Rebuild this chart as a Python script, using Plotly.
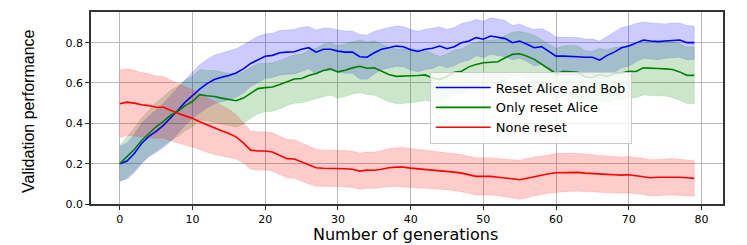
import plotly.graph_objects as go

generations = list(range(80))

reset_both = [0.200,0.213,0.250,0.300,0.335,0.360,0.390,0.425,0.465,0.505,
0.540,0.570,0.597,0.617,0.628,0.637,0.650,0.670,0.697,0.717,
0.733,0.737,0.750,0.753,0.755,0.767,0.775,0.753,0.767,0.767,
0.758,0.753,0.753,0.730,0.728,0.750,0.767,0.775,0.783,0.780,
0.765,0.756,0.767,0.772,0.783,0.770,0.780,0.800,0.808,0.825,
0.817,0.833,0.825,0.820,0.800,0.808,0.792,0.775,0.780,0.758,
0.733,0.733,0.733,0.730,0.728,0.728,0.713,0.737,0.753,0.775,
0.783,0.800,0.813,0.808,0.805,0.808,0.812,0.813,0.800,0.800]

reset_alice = [0.200,0.233,0.270,0.315,0.350,0.383,0.410,0.440,0.460,0.488,
0.508,0.542,0.537,0.533,0.525,0.520,0.512,0.525,0.550,0.572,
0.577,0.580,0.592,0.608,0.620,0.622,0.637,0.647,0.662,0.670,
0.655,0.663,0.675,0.683,0.673,0.675,0.658,0.642,0.633,0.633,
0.636,0.637,0.640,0.625,0.617,0.633,0.653,0.658,0.680,0.692,
0.700,0.703,0.705,0.725,0.742,0.745,0.733,0.717,0.695,0.670,
0.647,0.658,0.657,0.653,0.630,0.628,0.642,0.633,0.647,0.650,
0.658,0.657,0.675,0.675,0.672,0.670,0.667,0.655,0.638,0.638]

none_reset = [0.497,0.505,0.500,0.492,0.488,0.480,0.480,0.463,0.450,0.437,
0.425,0.408,0.392,0.375,0.363,0.350,0.333,0.303,0.267,0.263,
0.263,0.258,0.242,0.225,0.223,0.208,0.192,0.180,0.177,0.177,
0.177,0.175,0.172,0.163,0.168,0.167,0.172,0.180,0.183,0.183,
0.178,0.175,0.173,0.170,0.167,0.163,0.158,0.153,0.145,0.137,
0.137,0.137,0.133,0.130,0.125,0.120,0.128,0.137,0.142,0.150,
0.155,0.155,0.158,0.157,0.153,0.152,0.150,0.147,0.145,0.143,
0.145,0.140,0.137,0.130,0.133,0.133,0.135,0.133,0.130,0.127]

reset_both_std = [0.085,0.09,0.095,0.10,0.10,0.105,0.11,0.115,0.115,0.115,
0.115,0.12,0.12,0.12,0.12,0.12,0.12,0.12,0.115,0.115,
0.11,0.11,0.11,0.11,0.11,0.11,0.105,0.11,0.105,0.105,
0.105,0.105,0.105,0.11,0.11,0.105,0.10,0.10,0.10,0.10,
0.10,0.10,0.10,0.10,0.095,0.095,0.095,0.095,0.095,0.09,
0.09,0.09,0.09,0.09,0.085,0.085,0.085,0.09,0.09,0.095,
0.095,0.095,0.095,0.095,0.09,0.09,0.095,0.095,0.10,0.10,
0.10,0.095,0.09,0.09,0.09,0.085,0.085,0.085,0.085,0.083]

reset_alice_std = [0.09,0.10,0.105,0.11,0.115,0.12,0.12,0.125,0.125,0.125,
0.125,0.125,0.125,0.13,0.13,0.13,0.13,0.13,0.125,0.125,
0.12,0.12,0.12,0.12,0.12,0.12,0.125,0.125,0.13,0.13,
0.13,0.13,0.13,0.13,0.13,0.135,0.135,0.135,0.135,0.135,
0.135,0.13,0.125,0.12,0.115,0.11,0.11,0.11,0.11,0.11,
0.11,0.11,0.11,0.11,0.11,0.11,0.115,0.12,0.12,0.125,
0.125,0.125,0.13,0.13,0.13,0.13,0.13,0.13,0.13,0.13,
0.13,0.13,0.135,0.135,0.135,0.135,0.14,0.14,0.14,0.14]

none_reset_std = [0.167,0.165,0.163,0.16,0.158,0.155,0.152,0.15,0.147,0.145,
0.142,0.138,0.135,0.13,0.125,0.12,0.11,0.10,0.095,0.095,
0.095,0.095,0.095,0.095,0.095,0.095,0.093,0.092,0.09,0.09,
0.09,0.09,0.09,0.09,0.09,0.09,0.092,0.094,0.096,0.097,
0.097,0.096,0.095,0.094,0.093,0.092,0.092,0.092,0.092,0.092,
0.092,0.092,0.092,0.093,0.095,0.097,0.097,0.096,0.095,0.095,
0.095,0.095,0.095,0.094,0.093,0.092,0.091,0.09,0.09,0.09,
0.09,0.09,0.09,0.09,0.09,0.09,0.09,0.089,0.088,0.088]

series = [
    ("Reset Alice and Bob", reset_both, reset_both_std, "#0000ff", "rgba(0,0,255,0.2)"),
    ("Only reset Alice", reset_alice, reset_alice_std, "#008000", "rgba(0,128,0,0.2)"),
    ("None reset", none_reset, none_reset_std, "#ff0000", "rgba(255,0,0,0.2)"),
]

fig = go.Figure()
for name, mean, std, color, fill in series:
    upper = [m + s for m, s in zip(mean, std)]
    lower = [m - s for m, s in zip(mean, std)]
    fig.add_trace(go.Scatter(
        x=generations + generations[::-1], y=upper + lower[::-1],
        fill="toself", fillcolor=fill, line=dict(width=0.6, color=fill),
        hoverinfo="skip", showlegend=False))
for name, mean, std, color, fill in series:
    fig.add_trace(go.Scatter(x=generations, y=mean, mode="lines", name=name,
                             line=dict(color=color, width=1.6)))

axis_common = dict(showgrid=True, gridcolor="#b8b8b8", gridwidth=1,
                   showline=True, linecolor="#333333", linewidth=1.5, mirror=True,
                   ticks="outside", ticklen=4, tickcolor="#333333",
                   tickfont=dict(family="DejaVu Sans", size=11, color="black"),
                   zeroline=False, automargin=False)

fig.update_xaxes(range=[-3.95, 82.95], tickvals=[0, 10, 20, 30, 40, 50, 60, 70, 80],
                 **axis_common)
fig.update_yaxes(range=[0, 0.952], tickvals=[0.0, 0.2, 0.4, 0.6, 0.8], tickformat=".1f",
                 **axis_common)

fig.add_annotation(text="Number of generations", xref="paper", yref="paper",
                   x=0.498, y=-0.158, xanchor="center", yanchor="middle", showarrow=False,
                   font=dict(family="DejaVu Sans", size=16, color="black"))
fig.add_annotation(text="Validation performance", xref="paper", yref="paper",
                   x=-0.098, y=0.48, xanchor="center", yanchor="middle", showarrow=False,
                   textangle=-90,
                   font=dict(family="Liberation Sans", size=16, color="black"))

fig.update_layout(
    width=747, height=245,
    margin=dict(l=91, r=24, t=12, b=41),
    plot_bgcolor="white", paper_bgcolor="white",
    legend=dict(x=0.536, y=0.69, xanchor="left", yanchor="top",
                bgcolor="rgba(255,255,255,0.8)", bordercolor="#cccccc", borderwidth=1,
                font=dict(family="DejaVu Sans", size=13, color="black"),
                tracegroupgap=0, itemwidth=55),
)

fig.write_html("out.html", config={"displayModeBar": False},
               post_script="document.body.style.margin='0';document.body.style.overflow='hidden';")
